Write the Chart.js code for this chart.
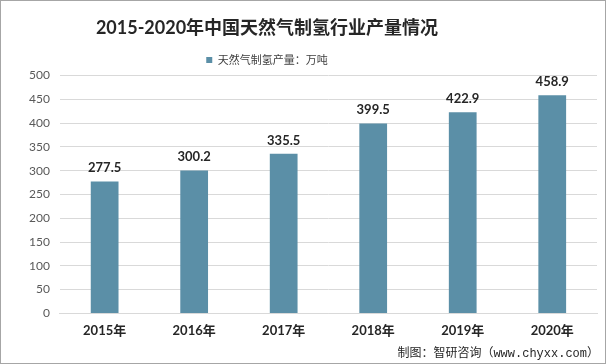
<!DOCTYPE html>
<html><head><meta charset="utf-8">
<script src="https://cdn.jsdelivr.net/npm/chart.js@4"></script>
<style>
html,body{margin:0;padding:0;background:#fff;}
#wrap{position:relative;width:604px;height:362px;border:1px solid #a6a6a6;background:#fff;}
#footer{position:absolute;right:6px;bottom:2px;font:12px 'Liberation Mono','Noto Sans CJK SC',monospace;color:#262626;}
</style></head>
<body>
<div id="wrap"><canvas id="c" width="604" height="362"></canvas>
<div id="footer">制图：智研咨询（www.chyxx.com）</div></div>
<script>
const categories = ['2015年','2016年','2017年','2018年','2019年','2020年'];
const production = [277.5, 300.2, 335.5, 399.5, 422.9, 458.9];
const yTicks = [0,50,100,150,200,250,300,350,400,450,500];
const seriesName = '天然气制氢产量：万吨';
const titleText = '2015-2020年中国天然气制氢行业产量情况';

const FONT = "Lato, 'Noto Sans CJK SC', sans-serif";
const labelPlugin = {
  id:'vals',
  afterDatasetsDraw(chart){
    const ctx = chart.ctx;
    const meta = chart.getDatasetMeta(0);
    ctx.save();
    ctx.font = "bold 13px " + FONT;
    ctx.fillStyle = '#262626';
    ctx.textAlign = 'center';
    ctx.textBaseline = 'bottom';
    meta.data.forEach((el,i)=>{
      ctx.fillText(production[i].toFixed(1), el.x, el.y - 7);
    });
    ctx.restore();
  }
};
// title and legend sit left of centre in the reference
const shiftPlugin = {
  id:'shiftHeader',
  afterUpdate(chart){
    const dx = -41;
    [chart.titleBlock, chart.legend].forEach(b=>{ if(b){ b.left += dx; b.right += dx; }});
  }
};
new Chart(document.getElementById('c'), {
  type:'bar',
  data:{labels:categories, datasets:[{label:seriesName, data:production, backgroundColor:'#5b8fa7', barPercentage:0.31, categoryPercentage:1}]},
  options:{
    responsive:false, animation:false,
    layout:{padding:{left:18,right:8,top:8,bottom:22}},
    plugins:{
      title:{display:true, text:titleText, color:'#262626', font:{family:FONT, size:18, weight:'bold'}, padding:{top:8,bottom:10}},
      legend:{display:true, labels:{boxWidth:6, boxHeight:6, color:'#404040', font:{family:FONT,size:11}, padding:6}},
      tooltip:{enabled:false}
    },
    scales:{
      x:{grid:{display:false}, border:{color:'#d9d9d9'}, ticks:{color:'#262626', font:{family:FONT,size:13,weight:'bold'}, padding:2}},
      y:{min:0,max:500, afterBuildTicks(ax){ax.ticks = yTicks.map(v=>({value:v}));},
         grid:{color:'#d9d9d9', drawTicks:false}, border:{display:false},
         ticks:{color:'#595959', font:{family:FONT,size:12}, padding:10}}
    }
  },
  plugins:[labelPlugin, shiftPlugin]
});
</script>
</body></html>
